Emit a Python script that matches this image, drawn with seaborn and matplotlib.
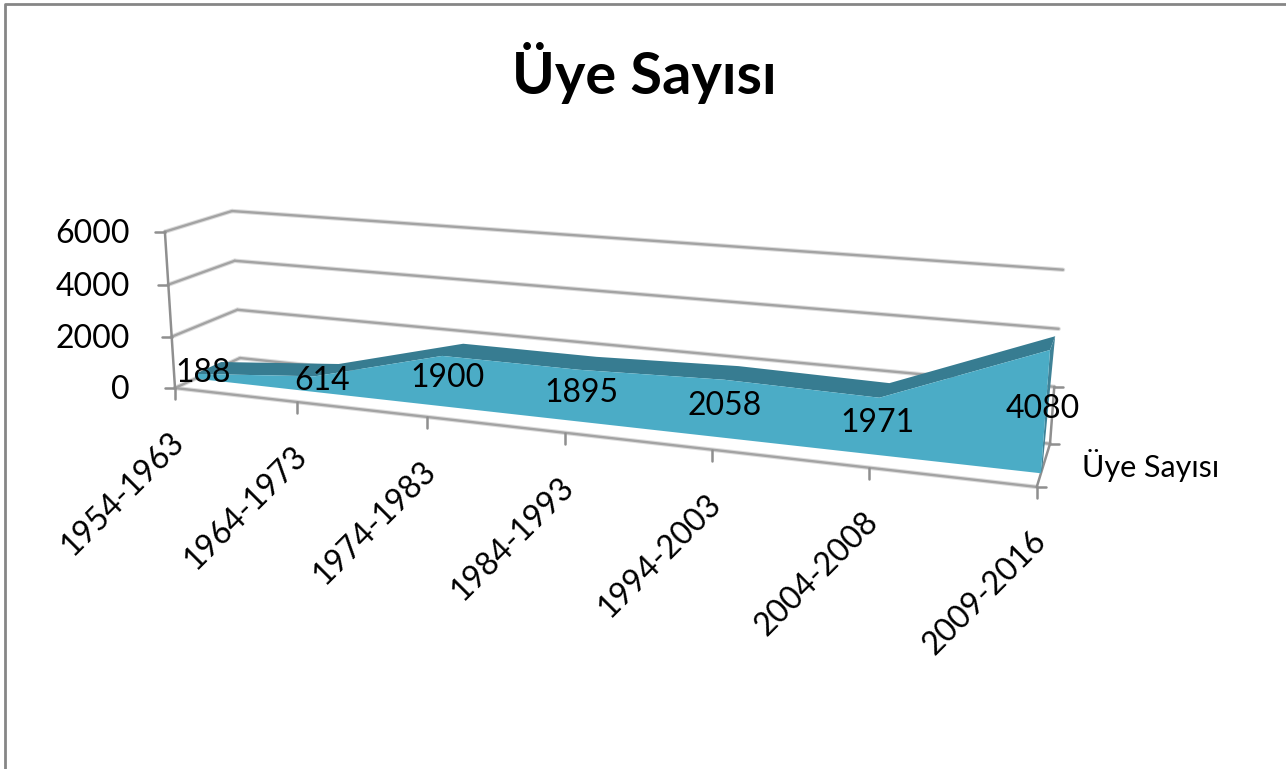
#!/usr/bin/env python3

import matplotlib
matplotlib.use('Agg')
from matplotlib import pyplot as plt
import seaborn as sns
import pandas as pd
import numpy as np

title = 'Üye Sayısı'
series_name = 'Üye Sayısı'
categories = ['1954-1963', '1964-1973', '1974-1983', '1984-1993',
              '1994-2003', '2004-2008', '2009-2016']
members = [188, 614, 1900, 1895, 2058, 1971, 4080]
y_ticks = [0, 2000, 4000, 6000]
y_max = 6000

AREA_FRONT = 0.3
AREA_BACK = 0.7
GRID_COLOR = '#a3a3a3'
GLOW_COLOR = '#dcdcdc'
AXIS_COLOR = '#8f8f8f'
FONT_SIZE = 23


def Project(i, value, depth):
    # perspective camera of the 3d chart: category, value, depth -> pixel
    i = np.asarray(i, dtype=float)
    u = np.asarray(value, dtype=float) / y_max
    depth = np.asarray(depth, dtype=float)
    w = 1 - 0.02896 * i - 0.0242 * u + 0.0667 * depth
    px = (175 + 113.6 * i - 14.1 * u + 81 * depth) / w
    py = (388 + 2.39 * i - 161.9 * u - 6.1 * depth) / w
    return px, py


def LineFrame(parts):
    rows = []
    for n, (i, value, depth) in enumerate(parts):
        px, py = Project(i, value, depth)
        rows.append(pd.DataFrame({'px': px, 'py': py, 'line': n}))
    return pd.concat(rows, ignore_index=True)


def DrawLines(axe, parts, color, width, zorder):
    sns.lineplot(data=LineFrame(parts), x='px', y='py', units='line', estimator=None,
                 sort=False, color=color, linewidth=width, zorder=zorder, ax=axe)


def DrawWalls(axe):
    idx = np.arange(len(categories))
    parts = []
    for tick in y_ticks:
        parts.append(([0, 0], [tick, tick], [0, 1]))
        parts.append((idx, np.full(len(idx), tick), np.ones(len(idx))))
    parts.append((idx, np.zeros(len(idx)), np.zeros(len(idx))))
    # soft edge under the line, the reference is a scaled up screenshot
    DrawLines(axe, parts, GLOW_COLOR, 3.2, 1)
    DrawLines(axe, parts, GRID_COLOR, 1.7, 1.5)
    edges = [([0, 0], [0, y_max], [0, 0]),
             ([6, 6], [0, 0], [0, 1]),
             ([6, 6], [0, 2000], [1, 1])]
    DrawLines(axe, edges, AXIS_COLOR, 1.8, 2)


def DrawArea(axe):
    idx = np.arange(len(categories))
    values = np.array(members, dtype=float)
    fx, fy = Project(idx, values, np.full(len(idx), AREA_FRONT))
    bx, by = Project(idx, values, np.full(len(idx), AREA_BACK))
    gx, gy = Project(idx, np.zeros(len(idx)), np.full(len(idx), AREA_FRONT))
    hx, hy = Project(idx[-1], 0, AREA_FRONT + 0.1)
    # top face, right end face, then the front face
    axe.fill(np.r_[fx, bx[::-1]], np.r_[fy, by[::-1]], color='#377c91', lw=0, zorder=3)
    axe.fill([gx[-1], fx[-1], bx[-1], hx], [gy[-1], fy[-1], by[-1], hy],
             color='#3f8297', lw=0, zorder=3)
    axe.fill(np.r_[fx, gx[::-1]], np.r_[fy, gy[::-1]], color='#4bacc6', lw=0, zorder=4)


def DrawTicks(axe):
    for n, name in enumerate(categories):
        px, py = Project(n, 0, 0)
        axe.plot([px, px], [py, py + 11], color=AXIS_COLOR, lw=1.8, zorder=2)
        axe.text(px - 6, py + 39, name, rotation=45, rotation_mode='anchor', ha='right',
                 va='top', fontsize=FONT_SIZE, color='black')
    for tick in y_ticks:
        px, py = Project(0, tick, 0)
        axe.plot([px - 10, px], [py, py], color=AXIS_COLOR, lw=1.8, zorder=2)
        axe.text(130, py + 2, str(tick), ha='right', va='center', fontsize=FONT_SIZE,
                 color='black')
    for tick, depth in [(0, 0), (0, 1), (2000, 1)]:
        px, py = Project(6, tick, depth)
        axe.plot([px, px + 9], [py, py], color=AXIS_COLOR, lw=1.8, zorder=2)
    axe.text(1082, 465, series_name, ha='left', va='center', fontsize=22, color='black')


def DrawLabels(axe):
    for n, value in enumerate(members):
        px, py = Project(n, value / 2, AREA_FRONT)
        # labels drift left of the mid point towards the right end
        axe.text(px + 8 - 1.8 * n, py - 3, str(value), ha='center', va='center',
                 fontsize=FONT_SIZE, color='black', zorder=6)


def main():
    sns.set_style('white')
    plt.rcParams['font.family'] = ['Lato', 'DejaVu Sans']
    fig = plt.figure(figsize=(12.86, 7.69), dpi=100)
    axe = fig.add_axes([0, 0, 1, 1])
    axe.set_xlim(0, 1286)
    axe.set_ylim(769, 0)
    axe.axis('off')
    # chart frame, only top and left survive in the crop
    axe.plot([5, 5, 1286], [769, 4, 4], color='#868686', lw=2, zorder=1)
    DrawWalls(axe)
    DrawArea(axe)
    DrawTicks(axe)
    DrawLabels(axe)
    axe.text(644, 73, title, ha='center', va='center', fontsize=41.7, fontweight='bold',
             color='black')
    axe.set_xlim(0, 1286)
    axe.set_ylim(769, 0)
    fig.savefig('out.png', dpi=100)


if __name__ == '__main__':
    main()
